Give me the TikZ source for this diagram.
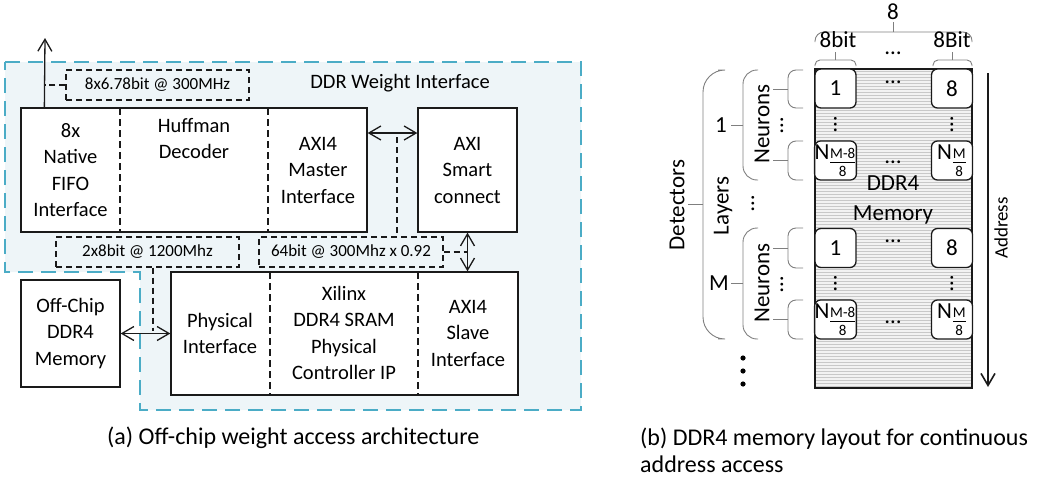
\documentclass[tikz,border=0pt]{standalone}
\usepackage{fontspec}
\setmainfont{Carlito}
\usetikzlibrary{arrows.meta}
\definecolor{regblue}{HTML}{4BACC6}
\definecolor{regfill}{HTML}{EEF5F8}
\definecolor{ink}{HTML}{1A1A1A}
\definecolor{brc}{HTML}{7F7F7F}
\definecolor{memfill}{HTML}{F2F2F2}
\definecolor{memline}{HTML}{C8C8C8}
\newcommand{\nsub}[1]{N\kern-0.5pt\raisebox{-9pt}{$\frac{\mbox{\fontsize{15}{15}\selectfont #1}}{\mbox{\fontsize{15}{15}\selectfont 8}}$}}
\begin{document}
\begin{tikzpicture}[x=1pt,y=-1pt,
  box/.style={draw=ink, line width=1.3pt, fill=white, inner sep=0pt},
  txt/.style={align=center, font=\fontsize{20.5}{26.5}\selectfont, inner sep=0pt},
  rtxt/.style={align=center, font=\fontsize{23}{28}\selectfont, inner sep=0pt},
  lblbox/.style={draw=ink, line width=1.1pt, dash pattern=on 6pt off 4pt, inner sep=0pt, minimum width=183pt, minimum height=30pt, font=\fontsize{17}{19}\selectfont},
  dsh/.style={draw=ink, line width=1.1pt, dash pattern=on 6pt off 4pt},
  divline/.style={draw=ink, line width=1.1pt, dash pattern=on 7pt off 4pt},
  arr/.style={draw=ink, line width=1.3pt, -{Straight Barb[length=12pt,width=14pt]}},
  dbl/.style={draw=ink, line width=1.3pt, {Straight Barb[length=12pt,width=14pt]}-{Straight Barb[length=12pt,width=14pt]}},
  cell/.style={draw=ink, line width=1.3pt, rounded corners=6pt, fill=white, minimum width=41pt, minimum height=39pt, inner sep=0pt, font=\fontsize{23}{28}\selectfont},
  brk/.style={draw=brc, line width=0.9pt},
  captxt/.style={font=\fontsize{24}{27}\selectfont, inner sep=0pt, align=left}
]
\useasboundingbox (0,0) rectangle (1049,479);

% ---------------- (a) region ----------------
\draw[regblue, line width=2.8pt, dash pattern=on 15pt off 8pt, fill=regfill]
  (5,62) -- (581,62) -- (581,410) -- (140,410) -- (140,272) -- (5,272) -- cycle;

\node[txt] (ddrwi) at (400,83) {DDR Weight Interface};

% upper combined box
\node[box, minimum width=346pt, minimum height=124pt] (top) at (194,170) {};
\draw[divline] (120,108) -- (120,232);
\draw[divline] (268,108) -- (268,232);
\node[txt] (fifo) at (70.5,170) {8x\\Native\\FIFO\\Interface};
\node[txt, anchor=north] (huff) at (194,118) {Huffman\\Decoder};
\node[txt] (axim) at (318,170) {AXI4\\Master\\Interface};

% AXI smart connect
\node[box, minimum width=99pt, minimum height=124pt] (axi) at (467.5,170) {};
\node[txt] (axit) at (467.5,170) {AXI\\Smart\\connect};

% lower combined box
\node[box, minimum width=347pt, minimum height=123pt] (low) at (344.5,333.5) {};
\draw[divline] (270,272) -- (270,395);
\draw[divline] (418,272) -- (418,395);
\node[txt] (phy) at (220,333.5) {Physical\\Interface};
\node[txt] (xil) at (344,333) {Xilinx\\DDR4 SRAM\\Physical\\Controller IP};
\node[txt] (axis) at (468,333) {AXI4\\Slave\\Interface};

% off-chip memory
\node[box, minimum width=99pt, minimum height=107pt] (mem) at (70.5,333.5) {};
\node[txt] (memt) at (70.5,333.5) {Off-Chip\\DDR4\\Memory};

% labels
\node[lblbox] (l1) at (157.5,85) {8x6.78bit @ 300MHz};
\node[lblbox] (l2) at (147.5,252) {2x8bit @ 1200Mhz};
\node[lblbox, minimum width=184pt] (l3) at (351,252) {64bit @ 300Mhz x 0.92};

% connectors
\coordinate (out) at (45,38);
\draw[arr] ([xshift=24pt]top.north west) -- (out);
\draw[dsh] (l1.west) -- (l1.west -| out);
\draw[dbl] ([yshift=37pt]top.east) -- ([yshift=37pt]axi.west);
\draw[dsh] (397,137) -- (l3.north -| 397,0);
\draw[dbl] (axi.south) -- (axi.south |- low.north);
\draw[dsh] (l3.east) -- (l3.east -| axi.south);
\draw[dbl] (mem.east) -- (mem.east -| low.west);
\draw[dsh] (l2.south -| 153,0) -- (153,331);

% ---------------- (b) memory layout ----------------
\node[draw=ink, line width=1.2pt, fill=memfill, minimum width=157pt, minimum height=319pt, inner sep=0pt] (ddr) at (893.5,228.5) {};
\foreach \yy in {71,74,...,386} \draw[memline, line width=0.6pt] (816,\yy) -- (971,\yy);
\draw[ink, line width=1.2pt] (ddr.north west) rectangle (ddr.south east);

\node[rtxt] (ddrt) at (893,200) {DDR4\\[2pt]Memory};

% cells
\node[cell] (a1) at (835.5,88.5) {1};
\node[cell] (a8) at (952,88.5) {8};
\node[cell] (an1) at (835.5,160.5) {\nsub{M-8}};
\node[cell] (an8) at (952,160.5) {\nsub{M}};
\node[cell] (b1) at (835.5,248) {1};
\node[cell] (b8) at (952,248) {8};
\node[cell] (bn1) at (835.5,319.5) {\nsub{M-8}};
\node[cell] (bn8) at (952,319.5) {\nsub{M}};

\node[rtxt] (h1) at (893,82) {\ldots};
\node[rtxt] (h2) at (893,162) {\ldots};
\node[rtxt] (h3) at (893,241) {\ldots};
\node[rtxt] (h4) at (893,322) {\ldots};
\node[rtxt, rotate=90] (v1) at (835.5,125) {\ldots};
\node[rtxt, rotate=90] (v2) at (952,125) {\ldots};
\node[rtxt, rotate=90] (v3) at (835.5,284) {\ldots};
\node[rtxt, rotate=90] (v4) at (952,284) {\ldots};

% top labels and braces
\node[rtxt] (eight) at (893,12) {8};
\draw[brk, rounded corners=9pt] (815,42) -- (815,32) -- (972,32) -- (972,42);
\draw[brk] (893,32) -- (893,22);
\node[rtxt] (bit1) at (838,40) {8bit};
\node[rtxt] (bit8) at (952,40) {8Bit};
\node[rtxt] (hd) at (893,53) {\ldots};
\draw[brk, rounded corners=5pt] (815,66) -- (815,60) -- (856,60) -- (856,66);
\draw[brk] (835.5,60) -- (835.5,52);
\draw[brk, rounded corners=5pt] (933,66) -- (933,60) -- (972,60) -- (972,66);
\draw[brk] (952,60) -- (952,52);

% neuron brackets
\foreach \ta/\tb/\tm in {70/108/89, 141/180/160, 228/268/248, 300/339/319}{
  \draw[brk, rounded corners=8pt] (803,\ta) -- (788,\ta) -- (788,\tb) -- (803,\tb);
  \draw[brk] (788,\tm) -- (773,\tm);
}
\node[rtxt, rotate=90] (neu1) at (762,124) {Neurons};
\node[rtxt, rotate=90] (neu2) at (762,283) {Neurons};
\node[rtxt, rotate=90] (nd1) at (782,126) {\ldots};
\node[rtxt, rotate=90] (nd2) at (782,285) {\ldots};

% layer brackets
\draw[brk, rounded corners=14pt] (758,70) -- (743,70) -- (743,180) -- (758,180);
\draw[brk] (743,125) -- (731,125);
\node[rtxt] (one) at (721,125) {1};
\draw[brk, rounded corners=14pt] (758,228) -- (743,228) -- (743,339) -- (758,339);
\draw[brk] (743,283) -- (731,283);
\node[rtxt] (mm) at (719,283) {M};
\node[rtxt, rotate=90] (lay) at (723,206) {Layers};
\node[rtxt, rotate=90] (ld) at (753,204) {\ldots};

% detectors bracket
\draw[brk, rounded corners=22pt] (718,70) -- (703,70) -- (703,339) -- (718,339);
\draw[brk] (703,204) -- (688,204);
\node[rtxt, rotate=90] (det) at (677,205) {Detectors};

% trailing dots
\fill[black] (743,358) circle (2.6pt);
\fill[black] (743,371) circle (2.6pt);
\fill[black] (743,384) circle (2.6pt);

% address arrow
\coordinate (adt) at (988,73);
\coordinate (adb) at (988,387);
\draw[arr, line width=1.6pt] (adt) -- (adb);
\node[rtxt, font=\fontsize{19}{22}\selectfont, rotate=90] (addr) at (1001,228) {Address};

% captions
\node[captxt, anchor=west] (capa) at (107,438) {(a) Off-chip weight access architecture};
\node[captxt, anchor=north west] (capb) at (640,428) {(b) DDR4 memory layout for continuous\\address access};
\end{tikzpicture}
\end{document}
